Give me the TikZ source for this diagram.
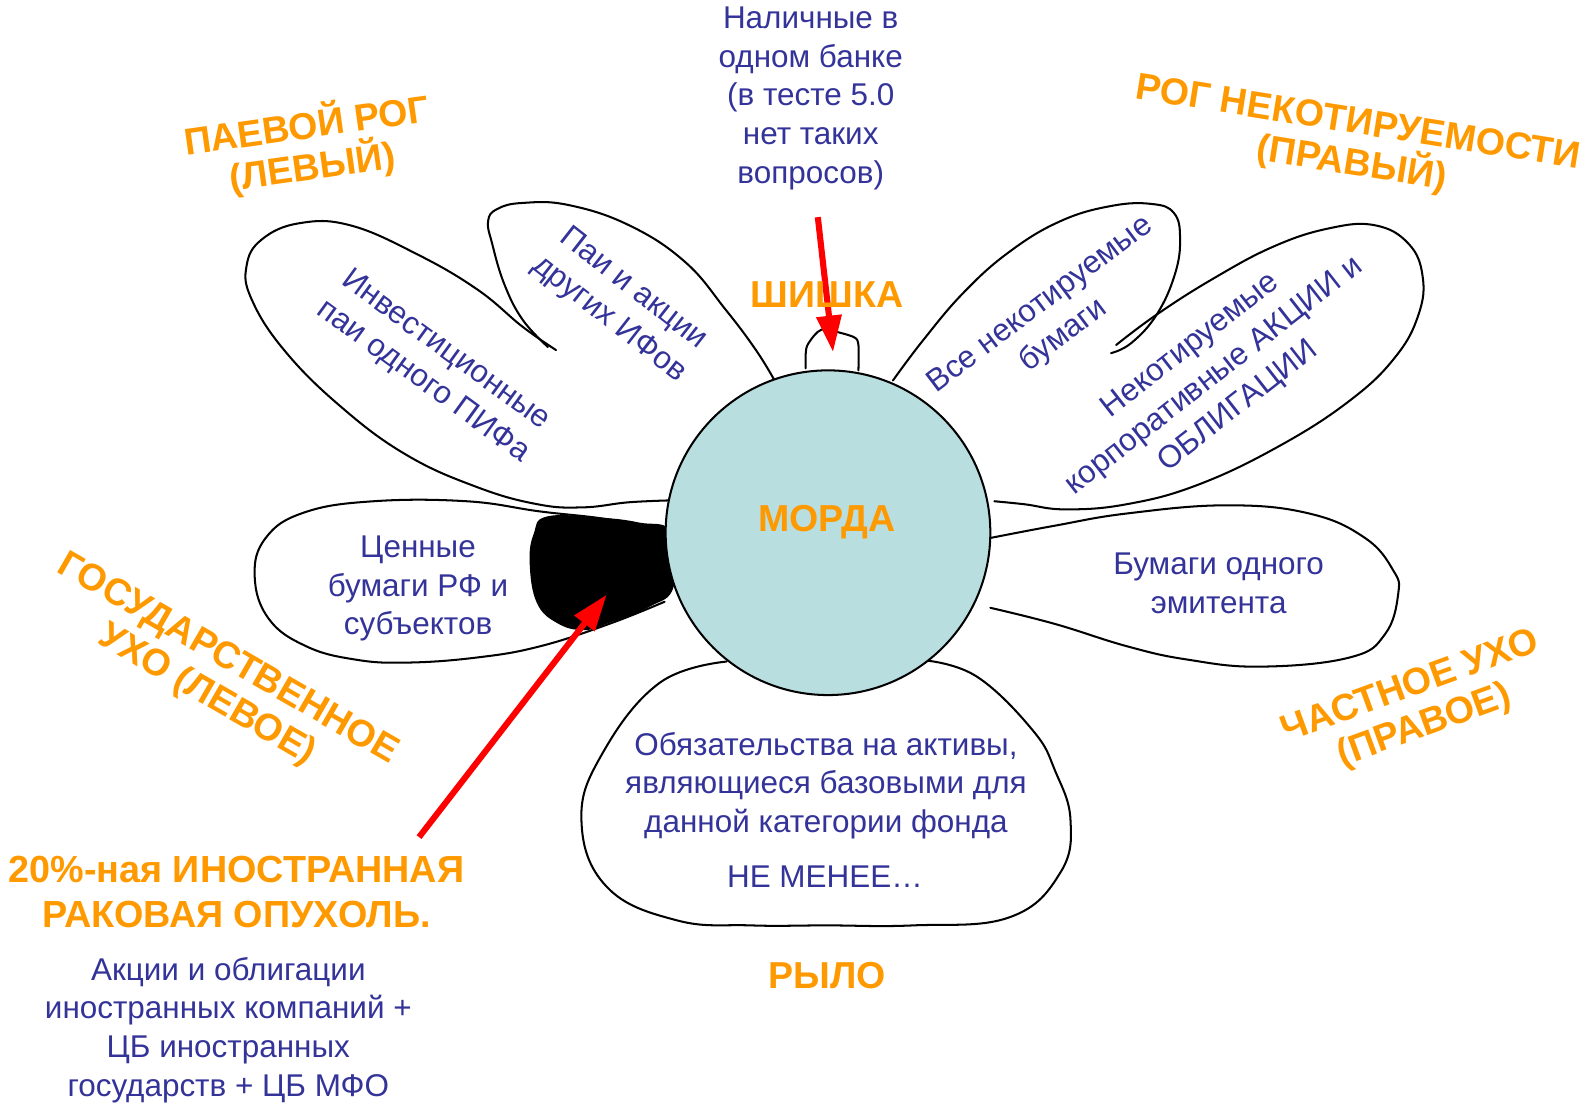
\documentclass[tikz,border=0pt]{standalone}
\usepackage{fontspec}
\setmainfont{Liberation Sans}
\usetikzlibrary{arrows.meta}
\definecolor{bluetxt}{RGB}{51,51,153}
\definecolor{orng}{RGB}{255,153,0}
\definecolor{face}{RGB}{184,222,224}
\begin{document}
\begin{tikzpicture}[x=0.5pt,y=-0.5pt,
  petal/.style={line width=1pt, line join=round, line cap=round},
  btext/.style={text=bluetxt, font=\fontsize{15.5}{19}\selectfont, align=center, inner sep=0pt},
  olabel/.style={text=orng, font=\bfseries\fontsize{18.5}{20.5}\selectfont, align=center, inner sep=0pt},
  redarrow/.style={draw=red, line width=3pt, -{Triangle[width=12pt,length=18pt]}}
]
\useasboundingbox (0,0) rectangle (1568,1088);

% petals
\draw[petal] plot[smooth, tension=0.7] coordinates {(666,493) (620,495) (575,500) (530,497) (470,480) (400,448) (335,400) (280,345) (248,295) (243,262) (258,236) (295,220) (345,222) (410,250) (470,285) (515,322) (548,345)};
\draw[petal] plot[smooth, tension=0.7] coordinates {(540,342) (515,315) (497,280) (485,240) (481,218) (490,206) (515,200) (560,202) (620,222) (675,258) (715,305) (745,345) (764,376)};
\draw[petal] plot[smooth, tension=0.7] coordinates {(880,375) (910,335) (950,288) (995,248) (1045,218) (1095,203) (1135,201) (1157,210) (1163,235) (1158,270) (1140,310) (1115,338) (1095,348)};
\draw[petal] plot[smooth, tension=0.7] coordinates {(1100,340) (1140,310) (1195,275) (1255,243) (1310,225) (1355,222) (1388,240) (1402,272) (1398,310) (1375,352) (1330,395) (1260,440) (1180,478) (1110,497) (1050,502) (1010,497) (980,494)};
\draw[petal] plot[smooth, tension=0.7] coordinates {(977,530) (1040,518) (1111,506) (1209,498) (1290,506) (1345,530) (1373,562) (1378,585) (1365,625) (1330,648) (1242,657) (1170,650) (1111,637) (1040,615) (976,599)};
\draw[petal] plot[smooth, tension=0.7] coordinates {(660,525) (600,512) (532,504) (460,494) (368,494) (300,505) (262,530) (251,568) (265,610) (302,637) (350,650) (401,653) (470,648) (532,637) (600,615) (655,593)};
\draw[petal] plot[smooth, tension=0.7] coordinates {(716,652) (650,673) (594,742) (573,808) (598,874) (667,907) (740,912) (815,912) (900,912) (995,904) (1045,860) (1055,808) (1040,760) (1018,720) (963,667) (913,651)};

% black blob
\fill[black] plot[smooth cycle, tension=0.7] coordinates {(539,509) (590,510) (630,515) (662,525) (664,578) (640,598) (600,614) (575,621) (549,614) (529,594) (522,555) (526,526)};

% face
\node[circle, draw=black, line width=1pt, fill=face, minimum size=160pt, inner sep=0pt] (face) at (816,525) {};
\node[olabel] (morda) at (815,515) {МОРДА};

% nub
\draw[petal] plot[smooth, tension=0.5] coordinates {(794,363) (795,342) (806,327) (815,325) (841,332) (846,340) (846,365)};

% arrows
\coordinate (a1s) at (806,214);
\coordinate (a1e) at (821,347);
\coordinate (a2s) at (413,825);
\coordinate (a2e) at (598,586);
\draw[redarrow] (a1s) -- (a1e);
\draw[redarrow] (a2s) -- (a2e);

% orange labels
\node[olabel] (shishka) at (815,290) {ШИШКА};
\node[olabel] (rylo) at (815,961) {РЫЛО};
\node[olabel, rotate=8] (lhorn) at (305,144) {ПАЕВОЙ РОГ\\(ЛЕВЫЙ)};
\node[olabel, rotate=-9] (rhorn) at (1335,143) {РОГ НЕКОТИРУЕМОСТИ\\(ПРАВЫЙ)};
\node[olabel, rotate=-30] (lear) at (214,668) {ГОСУДАРСТВЕННОЕ\\УХО (ЛЕВОЕ)};
\node[olabel, rotate=20] (rear) at (1397,697) {ЧАСТНОЕ УХО\\(ПРАВОЕ)};
\node[olabel, font=\bfseries\fontsize{18.6}{22}\selectfont] (tumor) at (233,879) {20\%-ная ИНОСТРАННАЯ\\РАКОВАЯ ОПУХОЛЬ.};

% blue texts
\node[btext] (cash) at (799,97) {Наличные в\\одном банке\\(в тесте 5.0\\нет таких\\вопросов)};
\node[btext, rotate=-36] (invpai) at (428,361) {Инвестиционные\\паи одного ПИФа};
\node[btext, rotate=-38] (otherif) at (612,300) {Паи и акции\\других ИФов};
\node[btext, rotate=37] (allnk) at (1037,316) {Все некотируемые\\бумаги};
\node[btext, rotate=38] (corpnk) at (1197,371) {Некотируемые\\корпоративные АКЦИИ и\\ОБЛИГАЦИИ};
\node[btext] (rf) at (412,580) {Ценные\\бумаги РФ и\\субъектов};
\node[btext] (emit) at (1201,575) {Бумаги одного\\эмитента};
\node[btext] (obl) at (814,774) {Обязательства на активы,\\являющиеся базовыми для\\данной категории фонда};
\node[btext] (nemenee) at (813,864) {НЕ МЕНЕЕ…};
\node[btext] (foreign) at (225,1015) {Акции и облигации\\иностранных компаний +\\ЦБ иностранных\\государств + ЦБ МФО};
\end{tikzpicture}
\end{document}
